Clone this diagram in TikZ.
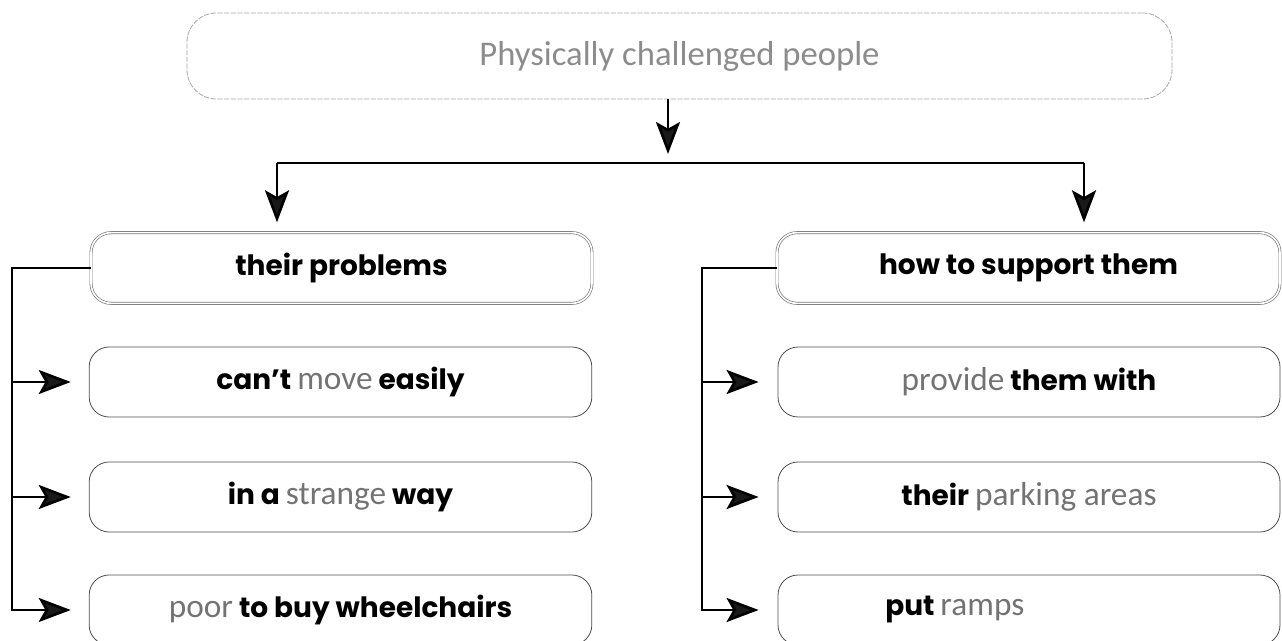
\documentclass[tikz,border=0pt]{standalone}
\usepackage{fontspec}
\setmainfont{Poppins}
\newfontfamily\topf{Carlito}
\newfontfamily\thinf{Carlito}
\usetikzlibrary{arrows.meta}
\definecolor{lgray}{gray}{0.55}
\definecolor{tgray}{gray}{0.45}
\newcommand\gw[1]{{\thinf\mdseries\fontsize{25}{28}\selectfont\color{tgray}#1}}
\begin{document}
\begin{tikzpicture}[x=0.75pt,y=-0.75pt,
 box/.style={draw=black!70, line width=0.6pt, rounded corners=15pt, minimum width=377pt, minimum height=52.5pt, inner sep=0pt, font=\bfseries\fontsize{21}{24}\selectfont},
 hbox/.style={box, draw=black!55, double=white, double distance=1.2pt, line width=0.5pt, minimum height=53pt},
 topbox/.style={draw=black!35, line width=0.6pt, dash pattern=on 4pt off 1pt, rounded corners=22pt, minimum width=738.75pt, minimum height=64.5pt, inner sep=0pt, font=\topf\fontsize{26}{29}\selectfont\color{lgray}},
 conn/.style={line width=2pt, black},
 arr/.style={conn, -{Stealth[length=24pt,width=18pt,inset=5pt,fill=black!90]}},
]
\useasboundingbox (0,0) rectangle (1282,641);
\node[topbox] (top) at (679.5,56) {Physically challenged people};
\node[hbox, minimum width=375.75pt] (lh) at (341.5,268) {their problems};
\node[hbox, minimum width=377.25pt] (rh) at (1028.5,268) {how to support them};
\node[box] (l1) at (340.5,382) {can't \gw{move} easily};
\node[box] (l2) at (340.5,497) {in a \gw{strange} way};
\node[box] (l3) at (340.5,610) {\gw{poor} to buy wheelchairs};
\node[box, minimum width=376.5pt] (r1) at (1029,382) {\gw{provide} them with};
\node[box, minimum width=376.5pt] (r2) at (1029,497) {their \gw{parking areas}};
\node[box, minimum width=376.5pt] (r3) at (1029,610) {};
\node[anchor=west, inner sep=0pt, font=\bfseries\fontsize{21}{24}\selectfont] (r3t) at (885,610) {put \gw{ramps}};
\coordinate (tj) at (668,163);
\coordinate (jl) at (277,163);
\coordinate (jr) at (1084,163);
\coordinate (lv) at (12,0);
\coordinate (rv) at (702,0);
\draw[arr, shorten >=6.75pt] (top.south -| tj) -- (tj);
\draw[conn] (jl) -- (jr);
\draw[arr, shorten >=7.5pt] (jl) -- (jl |- lh.north);
\draw[arr, shorten >=7.5pt] (jr) -- (jr |- rh.north);
\draw[arr, shorten >=13.5pt] (lh.west) -- (lh.west -| lv) |- (l3.west);
\draw[arr, shorten >=13.5pt] (l1.west -| lv) -- (l1.west);
\draw[arr, shorten >=13.5pt] (l2.west -| lv) -- (l2.west);
\draw[arr, shorten >=14.25pt] (rh.west) -- (rh.west -| rv) |- (r3.west);
\draw[arr, shorten >=14.25pt] (r1.west -| rv) -- (r1.west);
\draw[arr, shorten >=14.25pt] (r2.west -| rv) -- (r2.west);
\end{tikzpicture}
\end{document}
